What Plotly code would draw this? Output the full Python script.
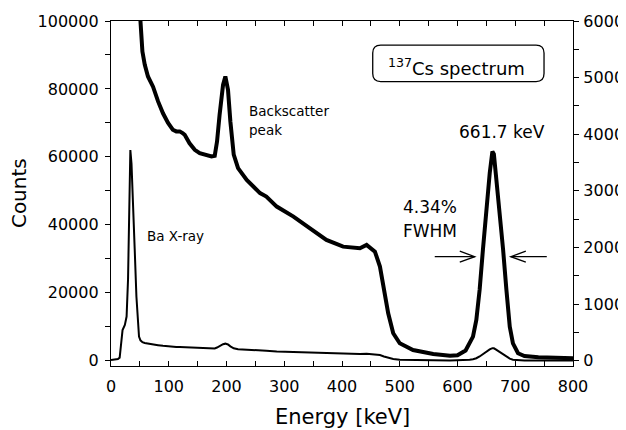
import plotly.graph_objects as go

# Energy (keV) and counts
energy = [0, 5, 12, 15, 18, 20, 24, 27, 29.5, 31.5, 33.5, 35.5, 38, 41, 44, 46.5, 48.5,
          51, 54.4, 58.4, 64, 72.8, 81.5, 90, 98.8, 107, 113, 119, 124, 127.6, 136, 145,
          153.6, 165, 174, 179.6, 183.6, 188, 194, 198, 202.6, 206.7, 212.5, 220, 235,
          258, 269, 287, 316, 344, 373, 402, 431, 442.6, 450, 457, 465.7, 472.6, 480,
          488.7, 500, 523, 558, 587, 600, 614, 621, 626.8, 632.6, 638.3, 644, 650, 655.8,
          660.4, 663, 666.2, 672, 679, 684.7, 690.5, 696, 704.8, 716, 740, 770, 800]
counts = [200, 250, 500, 900, 5000, 9000, 10500, 13000, 24000, 45000, 62000, 58000, 48000,
          33000, 18900, 11000, 7100,
          6000, 5460, 5230, 5020, 4840, 4580, 4370, 4200, 4080, 4050, 4050, 4020, 3990, 3840,
          3725, 3666, 3636, 3606, 3620, 3870, 4340, 4870, 5020, 4785, 4225, 3640, 3400, 3194,
          2960, 2900, 2722, 2545, 2340, 2134, 2015, 1987, 2045, 1990, 1927, 1662, 1250, 838,
          484, 307, 189, 118, 88, 95, 180, 307, 425, 720, 1250, 1957, 2722, 3313,
          3695, 3650, 3313, 2722, 1957, 1250, 601, 307, 131, 83, 60, 50, 45]

x_ticks = [0, 100, 200, 300, 400, 500, 600, 700, 800]
left_ticks = [0, 20000, 40000, 60000, 80000, 100000]
right_ticks = [0, 1000, 2000, 3000, 4000, 5000, 6000]

FONT = "DejaVu Sans"

# magnified view uses the part beyond the Ba X-ray peak
mag_x = [e for e in energy if e >= 48]
mag_y = [c for e, c in zip(energy, counts) if e >= 48]

fig = go.Figure()
fig.add_trace(go.Scatter(x=energy, y=counts, mode="lines",
                         line=dict(color="black", width=2), yaxis="y",
                         showlegend=False, hoverinfo="skip"))
fig.add_trace(go.Scatter(x=mag_x, y=mag_y, mode="lines",
                         line=dict(color="black", width=4), yaxis="y2",
                         showlegend=False, hoverinfo="skip"))

axis_common = dict(showline=True, linecolor="black", linewidth=1.3, showgrid=False,
                   zeroline=False, tickcolor="black", tickwidth=1.3, ticklen=5,
                   automargin=False, tickformat="d",
                   tickfont=dict(family=FONT, size=16, color="black"))

fig.update_layout(
    width=626, height=430,
    margin=dict(l=103, r=61, t=13, b=72),
    paper_bgcolor="white", plot_bgcolor="white",
    xaxis=dict(range=[0, 800], tickvals=x_ticks, ticks="inside", mirror="ticks",
               minor=dict(dtick=50, ticks="inside", ticklen=5, tickcolor="black", tickwidth=1.3),
               ticklabelstandoff=6, **axis_common),
    yaxis=dict(range=[-1560, 100000], tickvals=left_ticks, ticks="outside",
               minor=dict(dtick=10000, ticks="outside", ticklen=5, tickcolor="black", tickwidth=1.3),
               ticklabelstandoff=3, **axis_common),
    yaxis2=dict(range=[-93.6, 6000], tickvals=right_ticks, ticks="outside", overlaying="y",
                side="right",
                minor=dict(dtick=500, ticks="outside", ticklen=5, tickcolor="black", tickwidth=1.3),
                ticklabelstandoff=1, **axis_common),
)

def txt(text, x, y, size, xanchor="left", xref="x", yref="y", angle=0):
    fig.add_annotation(text=text, x=x, y=y, xref=xref, yref=yref, showarrow=False,
                       xanchor=xanchor, yanchor="middle", textangle=angle,
                       font=dict(family=FONT, size=size, color="black"))

txt("Counts", -0.199, 0.5014, 20, xanchor="center", xref="paper", yref="paper", angle=-90)
txt("Energy [keV]", 0.502, -0.148, 21, xanchor="center", xref="paper", yref="paper")
txt("Backscatter", 235, 73650, 13.5)
txt("peak", 235, 68050, 13.5)
txt("Ba X-ray", 58.5, 36850, 13.5)
txt("661.7 keV", 677.5, 67470, 17, xanchor="center")
txt("4.34%", 502.9, 45240, 17)
txt("FWHM", 502.9, 38180, 17)
txt("<sup>137</sup>Cs spectrum", 0.748, 0.8667, 18, xanchor="center", xref="paper", yref="paper")

# FWHM arrows
arrow_y = 30610
fig.add_shape(type="line", x0=560.6, x1=629.9, y0=arrow_y, y1=arrow_y, xref="x", yref="y",
              line=dict(color="black", width=1.3))
fig.add_shape(type="path", xref="x", yref="y", xsizemode="pixel", ysizemode="pixel",
              xanchor=629.9, yanchor=arrow_y, path="M -15,5.5 L 0,0 L -15,-5.5",
              line=dict(color="black", width=1.3))
fig.add_shape(type="line", x0=692.3, x1=754.6, y0=arrow_y, y1=arrow_y, xref="x", yref="y",
              line=dict(color="black", width=1.3))
fig.add_shape(type="path", xref="x", yref="y", xsizemode="pixel", ysizemode="pixel",
              xanchor=692.3, yanchor=arrow_y, path="M 15,5.5 L 0,0 L 15,-5.5",
              line=dict(color="black", width=1.3))

# rounded box around the title
hw, hh, r = 85.65, 18.25, 8
box = (f"M {-hw + r},{-hh} L {hw - r},{-hh} Q {hw},{-hh} {hw},{-hh + r} "
       f"L {hw},{hh - r} Q {hw},{hh} {hw - r},{hh} L {-hw + r},{hh} "
       f"Q {-hw},{hh} {-hw},{hh - r} L {-hw},{-hh + r} Q {-hw},{-hh} {-hw + r},{-hh} Z")
fig.add_shape(type="path", xref="paper", yref="paper", xsizemode="pixel", ysizemode="pixel",
              xanchor=0.7519, yanchor=0.8773, path=box, line=dict(color="black", width=1.3))

fig.write_html("out.html")
